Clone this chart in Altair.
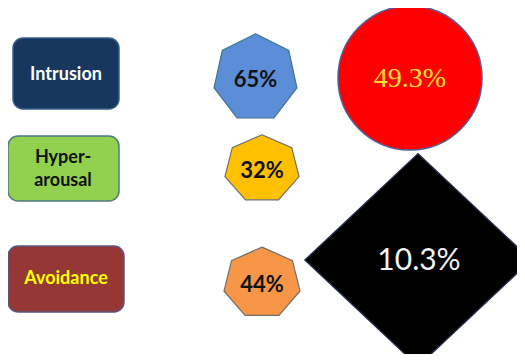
import math
import altair as alt
import pandas as pd

# ---- data ----
symptoms = ["Intrusion", "Hyper-\narousal", "Avoidance"]
symptom_pct = [65, 32, 44]
overall_values = [49.3, 10.3]
title_text = "Results among the Survey"

# ---- layout (image pixel coordinates) ----
box_x0 = [13, 8, 8]
box_x1 = [119, 119, 124]
box_y0 = [38, 136, 246]
box_y1 = [109, 201, 312]
box_fill = ["#17375E", "#92D050", "#953735"]
box_stroke = ["#3A5E8C", "#4F7A80", "#5A5585"]
box_text_color = ["#FFFFFF", "#111111", "#FFFF00"]
box_text_y = [75, 158, 279]
box_text_x = [66, 63, 66]

hept_cx = [255.5, 262, 262]
hept_cy = [78, 169, 283]
hept_r = [42.5, 38, 39]
hept_k = [1.04, 0.90, 0.92]
hept_fill = ["#5B8ED6", "#FFC000", "#F79646"]
hept_stroke = ["#41719C", "#6F6F6F", "#6F6F6F"]

circ_cx, circ_cy, circ_d = 410, 78, 144
diam_cx, diam_cy, diam_w = 418, 260, 226

W, H = 509, 346
xs = alt.Scale(domain=[8, 8 + W], zero=False, nice=False)
ys = alt.Scale(domain=[8 + H, 8], zero=False, nice=False)


def X(f="x"):
    return alt.X(f"{f}:Q", scale=xs, axis=None)


def Y(f="y"):
    return alt.Y(f"{f}:Q", scale=ys, axis=None)


layers = []

# rounded label boxes
for i in range(3):
    d = pd.DataFrame({"x": [box_x0[i]], "x2": [box_x1[i]], "y": [box_y0[i]], "y2": [box_y1[i]]})
    layers.append(
        alt.Chart(d).mark_rect(cornerRadius=10, fill=box_fill[i], stroke=box_stroke[i], strokeWidth=1.5)
        .encode(x=X(), x2="x2:Q", y=Y(), y2="y2:Q")
    )
    t = pd.DataFrame({"x": [box_text_x[i]], "y": [box_text_y[i]], "label": [symptoms[i]]})
    layers.append(
        alt.Chart(t).mark_text(font="Lato", fontWeight="bold", fontSize=18, color=box_text_color[i],
                               lineBreak="\n", lineHeight=23, baseline="middle", align="center")
        .encode(x=X(), y=Y(), text="label:N")
    )

# heptagons
for i in range(3):
    pts = []
    for k in range(7):
        th = 2 * math.pi * k / 7
        pts.append(f"{math.sin(th):.4f},{-hept_k[i] * math.cos(th):.4f}")
    path = "M" + "L".join(pts) + "Z"
    d = pd.DataFrame({"x": [hept_cx[i]], "y": [hept_cy[i]]})
    layers.append(
        alt.Chart(d).mark_point(shape=path, size=(2 * hept_r[i]) ** 2, filled=True, opacity=1,
                                fill=hept_fill[i], stroke=hept_stroke[i], strokeWidth=1.2)
        .encode(x=X(), y=Y())
    )
    t = pd.DataFrame({"x": [hept_cx[i]], "y": [hept_cy[i] + 1.5], "label": [f"{symptom_pct[i]}%"]})
    layers.append(
        alt.Chart(t).mark_text(font="Lato", fontWeight="bold", fontSize=22, color="#111111",
                               baseline="middle", align="center")
        .encode(x=X(), y=Y(), text="label:N")
    )

# red circle
d = pd.DataFrame({"x": [circ_cx], "y": [circ_cy]})
layers.append(
    alt.Chart(d).mark_point(shape="circle", size=circ_d ** 2, filled=True, opacity=1,
                            fill="#FF0000", stroke="#4F5F9A", strokeWidth=1.5)
    .encode(x=X(), y=Y())
)
t = pd.DataFrame({"x": [circ_cx], "y": [circ_cy + 1], "label": [f"{overall_values[0]}%"]})
layers.append(
    alt.Chart(t).mark_text(font="Liberation Serif", fontSize=28, color="#FFE033",
                           baseline="middle", align="center")
    .encode(x=X(), y=Y(), text="label:N")
)

# black diamond
d = pd.DataFrame({"x": [diam_cx], "y": [diam_cy]})
layers.append(
    alt.Chart(d).mark_point(shape="M0,-0.94L1,0L0,0.94L-1,0Z", size=diam_w ** 2, filled=True, opacity=1,
                            fill="#000000", stroke="#1F2A44", strokeWidth=1.5)
    .encode(x=X(), y=Y())
)
t = pd.DataFrame({"x": [diam_cx + 1], "y": [diam_cy + 1], "label": [f"{overall_values[1]}%"]})
layers.append(
    alt.Chart(t).mark_text(font="Lato", fontSize=30, color="#F2F2F2",
                           baseline="middle", align="center")
    .encode(x=X(), y=Y(), text="label:N")
)

# clipped title (only descenders visible)
t = pd.DataFrame({"x": [248], "y": [2], "label": [title_text]})
layers.append(
    alt.Chart(t).mark_text(font="Lato", fontWeight="bold", fontSize=26, color="#1F3864",
                           baseline="alphabetic", align="center")
    .encode(x=X(), y=Y(), text="label:N")
)

chart = (
    alt.layer(*layers)
    .properties(width=W, height=H, padding=0, autosize=alt.AutoSizeParams(type="none"), background="white")
    .configure_view(stroke=None)
)

chart.save("out.html", embed_options={"renderer": "svg", "actions": False})
